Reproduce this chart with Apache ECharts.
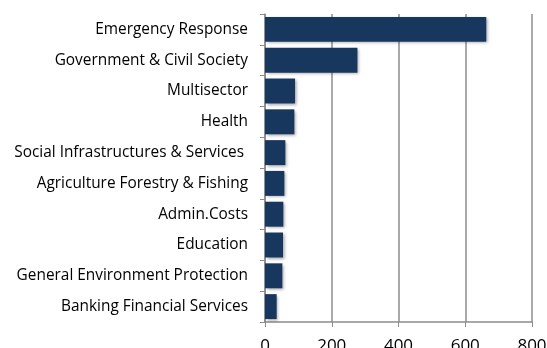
<!DOCTYPE html>
<html>
<head>
<meta charset="utf-8">
<script src="https://cdn.jsdelivr.net/npm/echarts@6/dist/echarts.min.js"></script>
<style>
  html, body { margin: 0; padding: 0; background: #fff; }
  #main { width: 547px; height: 348px; }
</style>
</head>
<body>
<div id="main"></div>
<script>
// categories, top to bottom
var sectors = [
    'Emergency Response',
    'Government & Civil Society',
    'Multisector',
    'Health',
    'Social Infrastructures & Services ',
    'Agriculture Forestry & Fishing',
    'Admin.Costs',
    'Education',
    'General Environment Protection',
    'Banking Financial Services'
];
var amounts = [663, 277, 90, 88, 61, 58, 55, 54, 52, 35];
var xTicks = [0, 200, 400, 600, 800];

var chart = echarts.init(document.getElementById('main'));

var option = {
    animation: false,
    grid: {
        left: 265,
        right: 15,
        top: 14,
        bottom: 26,
        outerBoundsMode: 'none'
    },
    xAxis: {
        type: 'value',
        min: xTicks[0],
        max: xTicks[xTicks.length - 1],
        interval: 200,
        axisLine: { show: true, lineStyle: { color: '#8c8c8c', width: 1.5 } },
        axisTick: { show: true, length: 5, lineStyle: { color: '#8c8c8c' } },
        splitLine: { show: true, lineStyle: { color: '#8c8c8c', width: 1.5 } },
        axisLabel: {
            color: '#000',
            fontFamily: 'Open Sans',
            fontSize: 17,
            margin: 16
        }
    },
    yAxis: {
        type: 'category',
        inverse: true,
        data: sectors,
        axisLine: { show: true, lineStyle: { color: '#8c8c8c', width: 1.5 } },
        axisTick: { show: true, length: 5, lineStyle: { color: '#8c8c8c' } },
        axisLabel: {
            color: '#000',
            fontFamily: 'Open Sans',
            fontSize: 15.4,
            margin: 17
        }
    },
    series: [{
        type: 'bar',
        data: amounts,
        barCategoryGap: '19%',
        itemStyle: {
            color: '#17375e',
            shadowColor: 'rgba(0,0,0,0.35)',
            shadowBlur: 3,
            shadowOffsetX: 1.5,
            shadowOffsetY: 1.5
        }
    }]
};

chart.setOption(option);
</script>
</body>
</html>
